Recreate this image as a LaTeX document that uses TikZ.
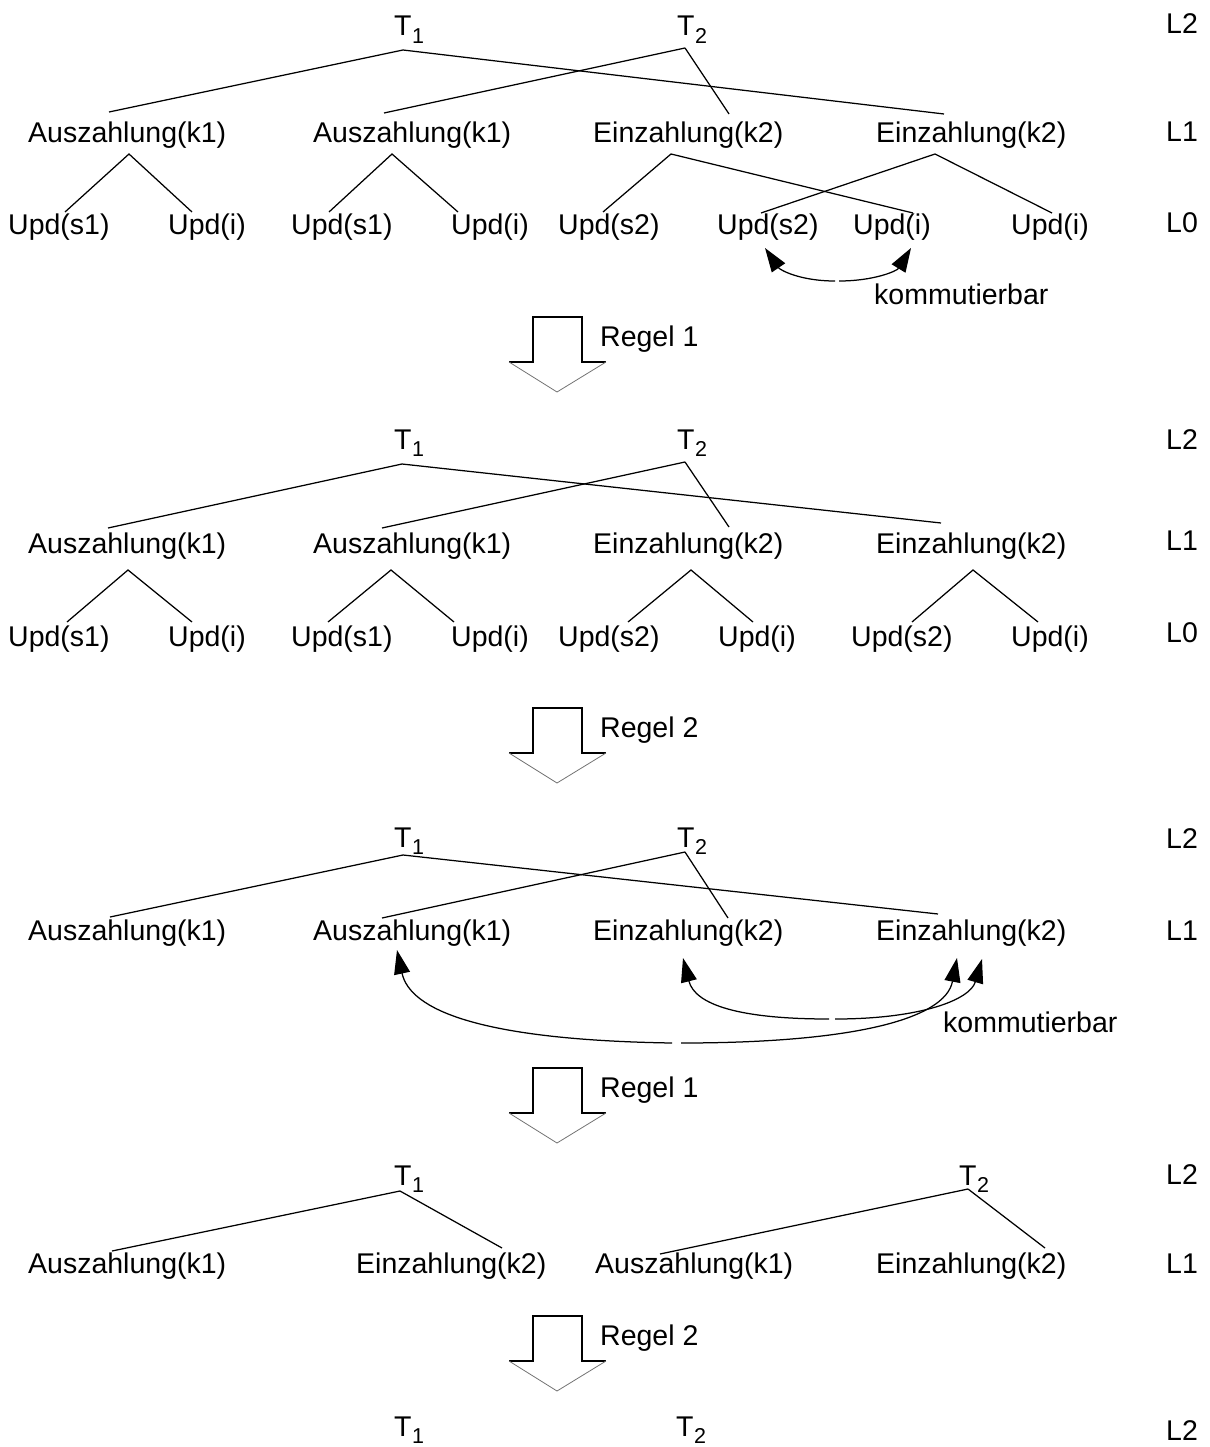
\documentclass[tikz,border=0pt]{standalone}
\usepackage{fontspec}
\setmainfont{Liberation Sans}
\usetikzlibrary{arrows.meta}
% letter with a lowered index, e.g. T_1
\newcommand{\tsub}[2]{#1\kern0.5pt\raisebox{-0.27em}{\fontsize{21.5}{22}\selectfont #2}}

\begin{document}
\begin{tikzpicture}[x=1pt,y=-1pt,
  lbl/.style={anchor=base west, inner sep=0pt, font=\fontsize{28.5}{30}\selectfont},
  edge/.style={line width=1.25pt},
  swap/.style={line width=1.25pt, -{Triangle[length=24pt,width=16pt]}},
  shaft/.style={line width=1.3pt},
  headline/.style={line width=0.8pt, draw=black!55},
  regel/.pic={
    \draw[shaft] (-48,45) -- (-24,45) -- (-24,0) -- (25,0) -- (25,45) -- (49,45);
    \draw[headline] (-48,45) -- (0,75) -- (49,45);
  }]

\useasboundingbox (0,0) rectangle (1209,1447);

% ---------- stage 1 ----------
\node[lbl] (s1t1) at (394,36) {\tsub{T}{1}};
\node[lbl] (s1t2) at (677,36) {\tsub{T}{2}};
\node[lbl] (s1l2) at (1166,34) {L2};
\node[lbl] (s1a1) at (28,143) {Auszahlung(k1)};
\node[lbl] (s1a2) at (313,143) {Auszahlung(k1)};
\node[lbl] (s1e1) at (593,143) {Einzahlung(k2)};
\node[lbl] (s1e2) at (876,143) {Einzahlung(k2)};
\node[lbl] (s1l1) at (1166,142) {L1};
\node[lbl] (s1u1) at (8,235) {Upd(s1)};
\node[lbl] (s1u2) at (168,235) {Upd(i)};
\node[lbl] (s1u3) at (291,235) {Upd(s1)};
\node[lbl] (s1u4) at (451,235) {Upd(i)};
\node[lbl] (s1u5) at (558,235) {Upd(s2)};
\node[lbl] (s1u6) at (717,235) {Upd(s2)};
\node[lbl] (s1u7) at (853,235) {Upd(i)};
\node[lbl] (s1u8) at (1011,235) {Upd(i)};
\node[lbl] (s1l0) at (1166,233) {L0};
\node[lbl] (s1k) at (874,304) {kommutierbar};

\coordinate (s1t1j) at (403,50);
\coordinate (s1t2j) at (685,48);
\coordinate (s1a1i) at (109,112);
\coordinate (s1a2i) at (384,113);
\coordinate (s1e1i) at (729,114);
\coordinate (s1e2i) at (944,114);
\coordinate (s1a1j) at (129,154);
\coordinate (s1a2j) at (392,154);
\coordinate (s1e1j) at (671,154);
\coordinate (s1e2j) at (935,154);
\coordinate (s1u1i) at (65,212);
\coordinate (s1u2i) at (192,212);
\coordinate (s1u3i) at (329,212);
\coordinate (s1u4i) at (458,212);
\coordinate (s1u5i) at (603,212);
\coordinate (s1u6i) at (761,213);
\coordinate (s1u7i) at (913,213);
\coordinate (s1u8i) at (1052,213);

\draw[edge] (s1t1j) -- (s1a1i);
\draw[edge] (s1t1j) -- (s1e2i);
\draw[edge] (s1t2j) -- (s1a2i);
\draw[edge] (s1t2j) -- (s1e1i);
\draw[edge] (s1u1i) -- (s1a1j) -- (s1u2i);
\draw[edge] (s1u3i) -- (s1a2j) -- (s1u4i);
\draw[edge] (s1u5i) -- (s1e1j) -- (s1u7i);
\draw[edge] (s1u6i) -- (s1e2j) -- (s1u8i);

\coordinate (s1ml) at (835,281);
\coordinate (s1mr) at (839,281);
\coordinate (s1tl) at (765,248);
\coordinate (s1tr) at (911,248);
\draw[swap] (s1ml) .. controls (800,281) and (780,270) .. (s1tl);
\draw[swap] (s1mr) .. controls (874,281) and (897,271) .. (s1tr);

\pic at (557,317) {regel};
\node[lbl] (r1a) at (600,346) {Regel 1};

% ---------- stage 2 ----------
\node[lbl] (s2t1) at (394,449) {\tsub{T}{1}};
\node[lbl] (s2t2) at (677,449) {\tsub{T}{2}};
\node[lbl] (s2l2) at (1166,449) {L2};
\node[lbl] (s2a1) at (28,553) {Auszahlung(k1)};
\node[lbl] (s2a2) at (313,553) {Auszahlung(k1)};
\node[lbl] (s2e1) at (593,553) {Einzahlung(k2)};
\node[lbl] (s2e2) at (876,553) {Einzahlung(k2)};
\node[lbl] (s2l1) at (1166,550) {L1};
\node[lbl] (s2u1) at (8,646) {Upd(s1)};
\node[lbl] (s2u2) at (168,646) {Upd(i)};
\node[lbl] (s2u3) at (291,646) {Upd(s1)};
\node[lbl] (s2u4) at (451,646) {Upd(i)};
\node[lbl] (s2u5) at (558,646) {Upd(s2)};
\node[lbl] (s2u6) at (718,646) {Upd(i)};
\node[lbl] (s2u7) at (851,646) {Upd(s2)};
\node[lbl] (s2u8) at (1011,646) {Upd(i)};
\node[lbl] (s2l0) at (1166,642) {L0};

\coordinate (s2t1j) at (402,464);
\coordinate (s2t2j) at (685,462);
\coordinate (s2a1i) at (108,528);
\coordinate (s2a2i) at (382,528);
\coordinate (s2e1i) at (729,527);
\coordinate (s2e2i) at (941,523);
\coordinate (s2a1j) at (128,570);
\coordinate (s2a2j) at (391,570);
\coordinate (s2e1j) at (691,570);
\coordinate (s2e2j) at (973,570);
\coordinate (s2u1i) at (67,622);
\coordinate (s2u2i) at (192,622);
\coordinate (s2u3i) at (328,622);
\coordinate (s2u4i) at (454,622);
\coordinate (s2u5i) at (628,622);
\coordinate (s2u6i) at (753,622);
\coordinate (s2u7i) at (912,622);
\coordinate (s2u8i) at (1038,622);

\draw[edge] (s2t1j) -- (s2a1i);
\draw[edge] (s2t1j) -- (s2e2i);
\draw[edge] (s2t2j) -- (s2a2i);
\draw[edge] (s2t2j) -- (s2e1i);
\draw[edge] (s2u1i) -- (s2a1j) -- (s2u2i);
\draw[edge] (s2u3i) -- (s2a2j) -- (s2u4i);
\draw[edge] (s2u5i) -- (s2e1j) -- (s2u6i);
\draw[edge] (s2u7i) -- (s2e2j) -- (s2u8i);

\pic at (557,708) {regel};
\node[lbl] (r2a) at (600,737) {Regel 2};

% ---------- stage 3 ----------
\node[lbl] (s3t1) at (394,847) {\tsub{T}{1}};
\node[lbl] (s3t2) at (677,847) {\tsub{T}{2}};
\node[lbl] (s3l2) at (1166,848) {L2};
\node[lbl] (s3a1) at (28,940) {Auszahlung(k1)};
\node[lbl] (s3a2) at (313,940) {Auszahlung(k1)};
\node[lbl] (s3e1) at (593,940) {Einzahlung(k2)};
\node[lbl] (s3e2) at (876,940) {Einzahlung(k2)};
\node[lbl] (s3l1) at (1166,940) {L1};
\node[lbl] (s3k) at (943,1032) {kommutierbar};

\coordinate (s3t1j) at (403,855);
\coordinate (s3t2j) at (685,852);
\coordinate (s3a1i) at (110,917);
\coordinate (s3a2i) at (382,918);
\coordinate (s3e1i) at (728,918);
\coordinate (s3e2i) at (938,914);

\draw[edge] (s3t1j) -- (s3a1i);
\draw[edge] (s3t1j) -- (s3e2i);
\draw[edge] (s3t2j) -- (s3a2i);
\draw[edge] (s3t2j) -- (s3e1i);

\coordinate (s3bl) at (672,1043);
\coordinate (s3br) at (681,1043);
\coordinate (s3sl) at (829,1019);
\coordinate (s3sr) at (835,1019);
\coordinate (s3ta2) at (397,950);
\coordinate (s3te1) at (683,958);
\coordinate (s3te2a) at (957,958);
\coordinate (s3te2b) at (982,959);
\draw[swap] (s3bl) .. controls (480,1040) and (410,1010) .. (s3ta2);
\draw[swap] (s3br) .. controls (850,1043) and (945,1020) .. (s3te2a);
\draw[swap] (s3sl) .. controls (740,1019) and (695,1005) .. (s3te1);
\draw[swap] (s3sr) .. controls (920,1019) and (970,1000) .. (s3te2b);

\pic at (557,1068) {regel};
\node[lbl] (r1b) at (600,1097) {Regel 1};

% ---------- stage 4 ----------
\node[lbl] (s4t1) at (394,1185) {\tsub{T}{1}};
\node[lbl] (s4t2) at (959,1185) {\tsub{T}{2}};
\node[lbl] (s4l2) at (1166,1184) {L2};
\node[lbl] (s4a1) at (28,1273) {Auszahlung(k1)};
\node[lbl] (s4e1) at (356,1273) {Einzahlung(k2)};
\node[lbl] (s4a2) at (595,1273) {Auszahlung(k1)};
\node[lbl] (s4e2) at (876,1273) {Einzahlung(k2)};
\node[lbl] (s4l1) at (1166,1273) {L1};

\coordinate (s4t1j) at (400,1191);
\coordinate (s4t2j) at (968,1189);
\coordinate (s4a1i) at (112,1251);
\coordinate (s4e1i) at (502,1248);
\coordinate (s4a2i) at (660,1254);
\coordinate (s4e2i) at (1045,1248);

\draw[edge] (s4t1j) -- (s4a1i);
\draw[edge] (s4t1j) -- (s4e1i);
\draw[edge] (s4t2j) -- (s4a2i);
\draw[edge] (s4t2j) -- (s4e2i);

\pic at (557,1316) {regel};
\node[lbl] (r2b) at (600,1345) {Regel 2};

% ---------- stage 5 ----------
\node[lbl] (s5t1) at (394,1436) {\tsub{T}{1}};
\node[lbl] (s5t2) at (676,1436) {\tsub{T}{2}};
\node[lbl] (s5l2) at (1166,1440) {L2};

\end{tikzpicture}
\end{document}
